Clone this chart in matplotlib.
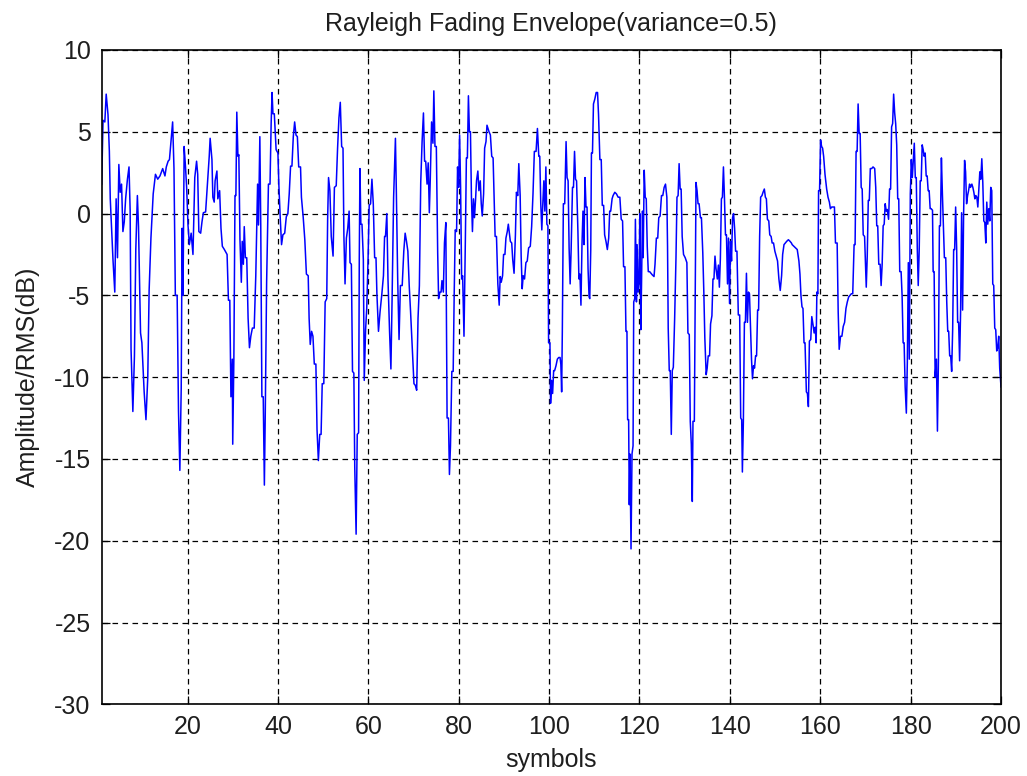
import matplotlib
matplotlib.use("Agg")
import matplotlib.pyplot as plt

plt.rcParams['font.family'] = ['Liberation Sans', 'DejaVu Sans']
plt.rcParams['lines.scale_dashes'] = False
plt.rcParams['axes.unicode_minus'] = False

# symbol index and envelope level (dB relative to RMS), traced vertex by vertex
symbol = [
    1.0, 1.3, 1.7, 2.0, 2.4, 2.7, 2.9, 3.5, 3.9, 4.2, 4.5, 4.8, 5.1, 5.4, 5.7, 6.0,
    6.3, 6.7, 7.05, 7.3, 7.5, 7.9, 8.25, 8.55, 8.9, 9.15, 9.6, 9.9, 10.4, 10.8, 11.2,
    11.5, 11.9, 12.4, 12.9, 13.4, 13.9, 14.5, 15.0, 15.3, 15.7, 16.0, 16.4, 16.7, 17.0,
    17.3, 17.7, 18.0, 18.3, 18.6, 18.8, 19.0, 19.25, 19.55, 19.8, 20.1, 20.4, 20.8,
    21.2, 21.6, 22.0, 22.25, 22.5, 22.9, 23.2, 23.5, 24.0, 24.3, 24.8, 25.0,
    25.4, 25.6, 25.9, 26.1, 26.5, 26.7, 27.1, 27.4, 27.7, 28.15, 28.75, 29.05, 29.35,
    29.6, 29.9, 30.0, 30.25, 30.5, 30.7, 30.9, 31.15, 31.35, 31.6, 31.9, 32.1, 32.35,
    32.55, 32.8, 33.1, 33.4, 33.7, 34.0, 34.35, 34.75, 35.1, 35.5, 35.7, 36.0, 36.2,
    36.45, 36.75, 37.0, 37.2, 37.5, 37.9, 38.25, 38.5, 38.7, 38.9, 39.2, 39.6, 40.0,
    40.2, 40.5, 40.8, 41.1, 41.5, 41.85, 42.2, 42.5, 42.8, 43.1, 43.4, 43.7, 44.0,
    44.3, 44.6, 45.0, 45.2, 45.6, 45.95, 46.3, 46.7, 46.9, 47.15, 47.45, 47.75, 48.05,
    48.4, 48.65, 48.95, 49.25, 49.55, 49.8, 50.15, 50.45, 50.8, 51.0, 51.2, 51.5, 51.8,
    52.2, 52.5, 52.9, 53.2, 53.5, 53.8, 54.1, 54.4, 54.6, 54.85, 55.15, 55.45, 55.75,
    55.95, 56.25, 56.5, 56.8, 57.0, 57.3, 57.55, 57.85, 58.0, 58.15, 58.35, 58.6, 58.9,
    59.1, 59.4, 59.65, 59.95, 60.2, 60.5, 60.8, 61.1, 61.4, 61.7, 61.9, 62.25, 62.6,
    63.0, 63.35, 63.6, 63.8, 64.1, 64.35, 64.7, 65.0, 65.25, 65.6, 66.0, 66.2, 66.5,
    66.8, 67.1, 67.5, 67.85, 68.15, 68.45, 68.75, 69.05, 69.35, 69.75, 70.1, 70.4,
    70.7, 71.0, 71.3, 71.6, 71.9, 72.2, 72.45, 72.7, 73.0, 73.25, 73.5, 73.7, 74.0,
    74.3, 74.5, 74.75, 75.05, 75.35, 75.55, 75.85, 76.1, 76.3, 76.6, 76.85, 77.15,
    77.43, 77.73, 77.95, 78.18, 78.48, 78.78, 79.0, 79.23, 79.53, 79.75, 79.98, 80.2,
    80.42, 80.65, 80.87, 81.17, 81.47, 81.7, 81.92, 82.15, 82.37, 82.6, 82.82, 83.04,
    83.27, 83.49, 83.72, 83.94, 84.24, 84.47, 84.77, 84.99, 85.21, 85.51, 85.74, 86.04,
    86.26, 86.49, 86.71, 87.01, 87.31, 87.61, 87.83, 88.06, 88.36, 88.66, 88.96, 89.18,
    89.41, 89.71, 89.93, 90.23, 90.45, 90.75, 90.98, 91.2, 91.43, 91.73, 91.95, 92.25,
    92.55, 92.77, 93.07, 93.3, 93.6, 93.82, 94.05, 94.27, 94.57, 94.87, 95.17, 95.47,
    95.84, 96.14, 96.44, 96.74, 97.12, 97.42, 97.72, 97.94, 98.16, 98.39, 98.61, 98.84,
    99.06, 99.29, 99.51, 99.74, 99.89, 100.19, 100.33, 100.56, 100.78, 101.01, 101.23,
    101.53, 101.83, 102.13, 102.43, 102.6, 102.78,
    102.93, 103.16, 103.46, 103.76, 103.98, 104.21, 104.43, 104.66, 104.88, 105.18,
    105.4, 105.63, 105.85, 106.08, 106.38, 106.6, 106.83, 107.05, 107.28, 107.5, 107.72,
    107.95, 108.17, 108.4, 108.62, 108.85, 109.0, 109.22, 109.37, 109.6, 109.82, 110.12,
    110.42, 110.72, 110.94, 111.24, 111.54, 111.77, 112.07, 112.29, 112.59, 112.89,
    113.19, 113.41, 113.64, 113.94, 114.16, 114.54, 114.91, 115.28, 115.66, 115.96,
    116.26, 116.48, 116.78, 117.01, 117.23, 117.38, 117.6, 117.75, 117.9, 118.13,
    118.35, 118.58, 118.73, 118.95, 119.1, 119.33, 119.48, 119.7, 119.93, 120.07, 120.3,
    120.45, 120.67, 120.82, 121.05, 121.27, 121.5, 121.72, 121.95, 122.25, 122.54,
    122.84, 123.22, 123.44, 123.74, 124.04, 124.27, 124.57, 124.87, 125.16, 125.46,
    125.76, 126.06, 126.21, 126.36, 126.59, 126.81, 127.04, 127.26, 127.49, 127.78,
    128.08,
    128.3, 128.55, 128.77, 129.0, 129.22, 129.45, 129.75, 130.12, 130.49, 130.72,
    131.02, 131.24, 131.47, 131.69, 131.84, 132.14, 132.37, 132.51, 132.74, 132.96,
    133.19, 133.49, 133.71, 134.01, 134.24, 134.46, 134.76, 134.98, 135.21, 135.51,
    135.73, 136.03, 136.26, 136.48, 136.71, 136.93, 137.23, 137.46, 137.68, 137.9,
    138.13, 138.35, 138.58, 138.8, 139.03, 139.25, 139.48, 139.7, 139.93, 140.15,
    140.37, 140.6, 140.82, 141.05, 141.27, 141.57, 141.87, 142.17, 142.4, 142.62,
    142.77, 142.99, 143.22, 143.44, 143.67, 143.89, 144.12, 144.34, 144.57, 144.79,
    145.01, 145.24, 145.46, 145.69, 145.91, 146.14, 146.36, 146.59, 146.81, 147.11,
    147.34, 147.63, 147.86, 148.08, 148.31, 148.61, 148.83, 149.13, 149.36, 149.66,
    149.96, 150.25, 150.55, 150.85, 151.15, 151.45, 151.68, 151.98, 152.28, 152.57,
    152.95, 153.32, 153.62,
    153.79, 154.16, 154.54, 154.91, 155.28, 155.51, 155.73, 155.96, 156.18, 156.41,
    156.63, 156.93, 157.16, 157.38, 157.6, 157.9, 158.13, 158.43, 158.65, 158.88,
    159.1, 159.25, 159.48, 159.63, 159.85, 160.07, 160.3, 160.52, 160.75, 161.05,
    161.42, 161.72, 162.02, 162.25, 162.54, 162.84, 163.14, 163.37, 163.74, 163.97,
    164.19, 164.49, 164.79, 165.09, 165.39, 165.69, 165.99, 166.29, 166.59, 166.89,
    167.19, 167.49, 167.71, 167.93, 168.16, 168.38, 168.61, 168.83, 169.06, 169.28,
    169.51, 169.81, 169.96, 170.18, 170.4, 170.63, 170.85, 171.08, 171.38, 171.68,
    172.05, 172.28, 172.5, 172.72, 172.95, 173.25, 173.47, 173.7, 173.92, 174.15,
    174.37, 174.6, 174.82, 175.12, 175.34, 175.57, 175.79, 176.02, 176.24, 176.47,
    176.69, 176.92, 177.14, 177.37, 177.59, 177.89, 178.11, 178.34, 178.56, 178.79,
    179.05, 179.27, 179.49, 179.71, 179.93, 180.15, 180.37, 180.59, 180.81, 181.03,
    181.25, 181.47, 181.68, 181.9, 182.12, 182.34, 182.56, 182.78, 183.0, 183.22,
    183.44, 183.66, 183.88, 184.1, 184.32, 184.54, 184.84, 184.98, 185.2, 185.42,
    185.71, 185.93, 186.15, 186.37, 186.59, 186.81, 187.03, 187.25, 187.47, 187.77,
    187.99, 188.21, 188.42, 188.64, 188.86, 189.08, 189.3, 189.52, 189.74, 189.96,
    190.18, 190.4, 190.62, 190.84, 191.06, 191.28, 191.5, 191.72, 191.94, 192.16,
    192.38, 192.6, 192.82, 193.04, 193.26, 193.55, 193.77, 193.99, 194.21, 194.43,
    194.65, 194.87, 195.09, 195.31, 195.53, 195.75, 195.97, 196.19, 196.41, 196.63,
    196.85, 197.07, 197.29, 197.51, 197.73, 197.95, 198.17, 198.39, 198.61, 198.83,
    199.05, 199.27, 199.49, 199.71, 200.0,
]

envelope_db = [
    1.8, 5.7, 5.6, 7.3, 6.05, 3.8, 0.9, -2.8, -4.8, 0.9, -2.7, 3.0, 1.3, 1.8, -1.1, -0.5,
    0.9, 2.1, 2.85, 0.2, -8.3, -12.1, -8.7, -2.2, 1.1, -0.8, -7.3, -7.9, -10.9, -12.6, -10.0,
    -4.7, -1.5, 1.2, 2.4, 2.1, 2.3, 2.75, 2.3, 2.85, 3.2, 3.3, 4.6, 5.6, 2.75,
    -5.0, -5.0, -12.1, -15.7, -10.7, -0.9, -5.0, 4.1, 2.85, 1.6, -0.7, -1.9, -1.2,
    -2.5, 2.2, 3.2, 2.4, -1.1, -1.2, -0.5, 0.05, 0.1, 1.4, 3.5, 4.6,
    3.3, 1.0, 0.7, 2.0, 2.6, 0.9, 1.4, -0.9, -2.0, -2.2, -2.5, -5.3, -5.3,
    -11.2, -8.9, -14.1, -8.9, 1.1, 1.1, 6.2, 3.5, 3.6, -1.6, -4.2, -1.7, -3.1,
    -0.8, -2.7, -2.7, -6.4, -8.2, -7.5, -7.0, -7.0, -3.8, 1.8, -0.7, 4.7, -0.7,
    -11.2, -11.2, -16.6, -12.2, -4.2, 1.8, 1.8, 5.5, 7.4, 6.1, 6.1, 3.9, 3.7,
    1.8, -0.2, -1.9, -1.3, -1.2, -0.2, 0.0, 1.2, 2.9, 2.9, 4.7, 5.6, 4.8,
    4.7, 2.85, 2.85, 1.0, -0.25, -1.6, -3.7, -3.8, -6.4, -8.0, -7.2, -7.5, -9.2,
    -9.2, -13.2, -15.1, -13.5, -13.5, -10.4, -10.4, -5.4, -5.2, -0.35, 2.2, 1.4, -1.4,
    -2.6, 1.6, 1.7, 4.0, 5.85, 6.8, 4.1, 4.0, -1.4, -4.3, -1.5, -0.9, 0.15,
    -3.0, -3.1, -9.65, -9.75, -15.5, -19.6, -13.5, -13.4, -2.8, 2.75, -0.65, -0.65, -2.8,
    -10.2, -7.1, -5.8, -2.7, 0.5, 0.6, 2.1, 0.6, -2.7, -2.7, -4.9, -7.2, -6.0,
    -4.9, -3.8, -1.4, -1.4, 0.0, -4.0, -7.2, -9.5, -5.4, 1.0, 4.6, 1.4, -4.0,
    -7.7, -4.4, -4.4, -2.3, -1.2, -1.7, -2.3, -4.4, -6.0, -8.3, -10.4, -10.5,
    -10.8, -6.4, -4.4, 1.9, 4.4, 6.15, 3.2, 3.2, 1.8, 3.1, 0.05, 2.0, 5.6,
    4.3, 7.5, 4.1, 4.1, -2.4, -5.2, -4.8, -4.8, -4.1, -4.8, -1.8, -0.55,
    -12.5, -12.5, -15.95, -14.2, -9.65, -9.65, -5.0, -1.0, -1.1, 2.85, 1.6, 4.8,
    1.6, -4.0, -3.8, -7.5, -1.7, 3.4, 3.4, 7.2, 5.0, 5.0, 1.0, -1.1,
    0.9, -0.25, 0.8, 2.0, 2.6, 1.4, 2.0, 0.6, -0.15, 1.2, 4.0, 4.4,
    5.4, 5.2, 5.0, 4.8, 3.5, 3.4, 1.1, -1.4, -1.4, -4.3, -5.6, -3.85,
    -4.2, -3.8, -2.5, -2.5, -1.5, -1.1, -0.65, -1.15, -1.7, -1.8, -2.8, -3.65,
    -1.3, 1.3, 1.1, 3.05, 1.1, -2.6, -4.6, -3.8, -4.0, -3.0, -2.9, -2.1,
    -2.0, -0.8, 1.2, 3.8, 3.8, 5.2, 3.5, 3.5, 0.6, -1.0, 0.6, 2.0,
    0.15, 2.85, -0.65, -0.75, -7.9, -7.9, -11.6, -10.2, -11.0, -9.6, -9.6,
    -9.3, -8.9, -8.8, -8.8, -9.2, -10.9,
    -7.2, 0.6, 0.6, 4.4, 2.2, 2.0, -2.1, -4.3, -2.2, 1.6,
    1.6, 3.8, 2.1, 2.0, -1.1, -4.0, -3.7, -5.6, -1.9, 0.15, -1.9,
    2.2, 0.4, 0.4, -3.35, -5.1, -5.2, -2.2, 3.7, 3.7, 6.7, 7.0,
    7.4, 7.4, 6.05, 3.3, 3.3, 0.5, 0.5, -1.3, -1.7, -2.2,
    -1.5, 0.15, 0.15, 0.9, 1.1, 1.3, 1.2, 1.0, 1.0, -0.35,
    -0.45, -3.25, -3.25, -7.2, -7.2, -12.6, -12.6, -17.8, -14.7, -20.5,
    -14.7, -14.2, -5.4, -5.2, -0.35, -5.4, -1.9, -4.8, -4.0, 0.0, -7.1,
    -4.4, 0.15, -2.7, 2.65, 1.0, 0.9, -2.0, -3.55, -3.55, -3.65,
    -3.75, -3.85, -3.1, -1.5, -1.5, -0.25, -0.15, 1.1, 1.1, 1.6,
    1.8, 1.0, -2.0, -7.0, -9.6, -9.6, -13.5, -9.6, -9.4, -6.45,
    -2.7,
    1.0, 1.1, 3.05, 1.5, 1.5, -1.4, -2.5, -2.7, -3.0, -7.3,
    -7.4, -12.7, -14.1, -17.6, -12.7, -12.7, -3.0, 1.9, 1.4, 0.6,
    0.6, -0.25, -0.25, -2.4, -4.8, -7.6, -9.85, -9.45, -8.7, -8.7,
    -6.75, -6.25, -4.0, -4.0, -2.6, -3.35, -4.0, -3.15, -4.5, -2.75,
    0.9, 1.0, 2.85, 1.0, -1.3, -1.3, -4.3, -1.5, -5.5, -1.7,
    -2.9, -0.25, 0.0, -0.9, -2.3, -2.3, -6.2, -6.2, -12.5, -12.6,
    -15.8, -12.7, -6.65, -6.65, -3.65, -6.65, -4.8, -4.9, -6.9, -8.9,
    -10.1, -9.3, -9.45, -8.7, -8.7, -5.9, -5.9, -1.4, 1.0, 1.1,
    1.3, 1.5, 1.0, 0.9, -0.35, -0.45, -1.3, -1.4, -1.8, -1.8,
    -2.3, -2.6, -2.9, -4.0, -4.7, -3.8, -2.5, -1.9, -1.8, -1.7,
    -1.6, -1.7, -1.8,
    -1.9, -2.0, -2.1, -2.2, -2.9, -3.7, -5.0, -5.7, -5.8, -7.9,
    -7.9, -10.9, -11.0, -11.8, -7.8, -7.7, -6.3, -6.85, -7.3, -6.95,
    -7.9, -4.8, -4.9, 1.4, 1.4, 4.5, 4.1, 4.0, 3.5, 2.4,
    1.5, 1.0, 0.7, 0.3, 0.4, 0.4, 0.4, -1.8, -1.8, -6.0,
    -8.3, -7.5, -7.5, -6.9, -6.65, -5.8, -5.4, -5.1, -5.0, -4.9,
    -4.9, -1.9, -1.9, 3.8, 3.8, 6.7, 4.9, 4.9, 1.6, 1.5,
    -1.3, -1.4, -2.7, -4.5, -2.6, 0.8, 0.8, 2.75, 2.75, 2.85,
    2.75, 1.6, -0.75, -0.75, -3.1, -3.1, -4.4, -3.1, -0.75, -0.65,
    0.6, 0.15, 0.25, -0.35, 1.5, 1.5, 5.3, 5.5, 7.3, 6.15,
    5.5, 4.2, 0.9, 0.9, -3.55, -3.55, -5.0, -7.9, -7.9, -10.6,
    -12.2, -9.1, -3.0, -8.9, 1.2, 3.3, 2.2, 3.3, 4.3, 2.2,
    2.2, -2.1, -4.4, -2.2, 2.0, 2.0, 4.2, 3.9, 3.5, 3.7,
    2.3, 2.3, 1.4, 1.4, 0.3, 0.3, 0.2, -3.55, -3.55, -10.0,
    -8.9, -13.3, -9.0, -0.75, -0.75, 3.4, 1.2, -0.75, -2.7, -2.7,
    -5.4, -7.2, -7.2, -8.7, -8.7, -9.65, -7.1, -2.2, -2.2, 0.4,
    -2.1, -6.65, -6.65, -9.0, -5.9, 0.05, -5.9, -0.05, 3.25, 2.55,
    0.6, 1.1, 1.4, 1.8, 1.6, 1.8, 1.6, 1.3, 0.9, 1.1,
    1.0, 0.4, 1.5, 2.55, 2.1, 3.35, 1.9, -0.45, -0.55, -1.8,
    0.7, -0.65, 0.3, -0.45, 1.6, 1.4, -4.3, -4.4, -7.0, -7.1,
    -8.4, -8.2, -7.5, -9.45, -10.6,
]

x_ticks = list(range(20, 201, 20))
y_ticks = list(range(-30, 11, 5))

text_color = '#1e1e1e'

fig = plt.figure(figsize=(10.27, 7.76), dpi=100)
ax = fig.add_axes([0.099, 0.0924, 0.8757, 0.8432])

ax.plot(symbol, envelope_db, color='#0000ff', linewidth=1.1)

ax.set_xlim(1, 200)
ax.set_ylim(-30, 10)
ax.set_xticks(x_ticks)
ax.set_yticks(y_ticks)

ax.set_axisbelow(True)
ax.grid(True, color='black', linewidth=0.9, linestyle=(0, (4.0, 3.2)))

for side in ax.spines.values():
    side.set_linewidth(1.2)
    side.set_color('black')

ax.tick_params(direction='in', top=True, right=True, length=5.5, width=0.9,
               pad=8, labelsize=18, labelcolor=text_color)

ax.set_title('Rayleigh Fading Envelope(variance=0.5)', fontsize=18,
             color=text_color, pad=14)
ax.set_xlabel('symbols', fontsize=18, color=text_color, labelpad=6)
ax.set_ylabel('Amplitude/RMS(dB)', fontsize=18, color=text_color, labelpad=10)

fig.savefig('out.png', dpi=100, facecolor='white')
